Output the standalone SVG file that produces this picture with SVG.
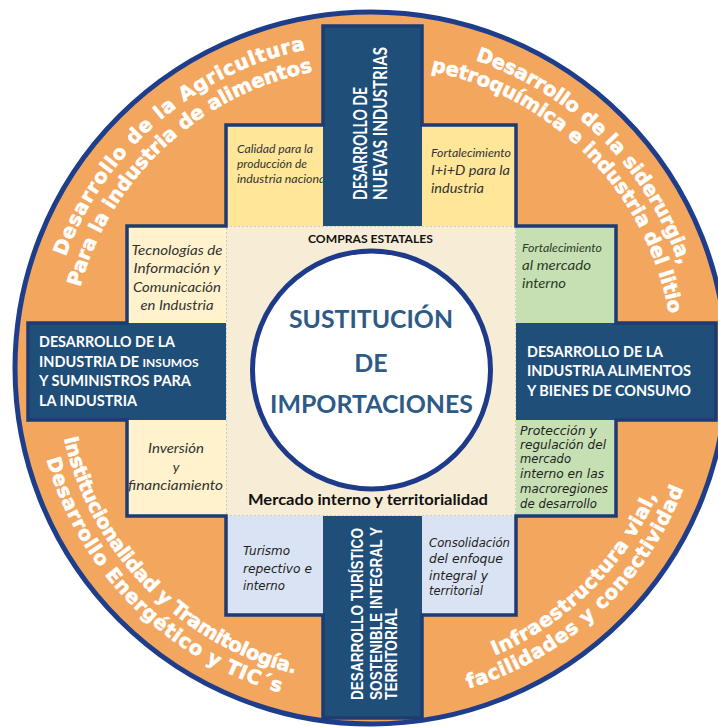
<svg xmlns="http://www.w3.org/2000/svg" width="718" height="727" viewBox="0 0 718 727">
<defs>
<style>
.ring{font-family:"DejaVu Sans",Verdana,sans-serif;font-weight:bold;font-size:19.5px;fill:#ffffff;stroke:#ffffff;stroke-width:0.6px}
.bar{fill:#1F4E79}
.bt{font-family:Lato,"Open Sans",sans-serif;font-weight:bold;font-size:14.5px;fill:#ffffff}
.vt{font-family:Lato,"Open Sans",sans-serif;font-weight:bold;font-size:19px;fill:#ffffff}
.vt2{font-family:"Liberation Sans",Arial,sans-serif;font-weight:bold;font-size:17px;fill:#ffffff}
.it{font-family:Lato,"Open Sans",sans-serif;font-style:italic;fill:#333333}
.tah{font-family:"DejaVu Sans",Verdana,sans-serif;font-style:italic;font-size:12px;fill:#222222}
.title{font-family:Lato,"Open Sans",sans-serif;font-weight:bold;font-size:25px;fill:#2E5A87;text-anchor:middle}
.lbl{font-family:Lato,"Open Sans",sans-serif;font-weight:bold;fill:#111111;text-anchor:middle}
.yel{fill:#FFE699}
.crm{fill:#FFF2CC}
.grn{fill:#C6E0B4}
.blu{fill:#DAE3F3}
.mid{text-anchor:middle}
</style>
<path id="pTL1" d="M65.6,256.8 A325,325 0 0 1 306.2,49.5"/>
<path id="pTL2" d="M80.0,287.3 A302,302 0 0 1 313.4,71.5"/>
<path id="pTR1" d="M475.2,60.2 A325,325 0 0 1 679.6,266.0"/>
<path id="pTR2" d="M430.9,71.0 A303,303 0 0 1 669.2,314.3"/>
<path id="pBL1" d="M63.95,438.3 A315,315 0 0 0 295.9,673.9"/>
<path id="pBL2" d="M46.6,459.2 A337,337 0 0 0 281.5,692.9"/>
<path id="pBR1" d="M494.8,655.5 A313,313 0 0 0 657.4,494.3"/>
<path id="pBR2" d="M468.4,688.5 A335,335 0 0 0 684.0,487.5"/>
</defs>

<rect x="0" y="0" width="718" height="727" fill="#ffffff"/>

<g id="ring">
<circle cx="371" cy="368" r="356" fill="#F3A65E" stroke="#1E3E8C" stroke-width="5"/>
</g>

<g id="center-square">
<rect x="226" y="226" width="290" height="290" fill="#F7ECD6" stroke="#A8A8A8" stroke-width="1" stroke-dasharray="2 2"/>
</g>

<g id="box-calidad">
<rect x="226" y="125" width="97" height="101" class="yel"/>
<text class="it" font-size="12" x="237" y="153" textLength="76" lengthAdjust="spacingAndGlyphs">Calidad para la</text>
<text class="it" font-size="12" x="237" y="168" textLength="70" lengthAdjust="spacingAndGlyphs">producción de</text>
<text class="it" font-size="12" x="237" y="183" textLength="91" lengthAdjust="spacingAndGlyphs">industria nacional</text>
</g>

<g id="box-idi">
<rect x="422" y="125" width="94" height="101" class="yel"/>
<text class="it" font-size="11.5" x="431" y="157" textLength="80" lengthAdjust="spacingAndGlyphs">Fortalecimiento</text>
<text class="it" font-size="14" x="431" y="175" textLength="79" lengthAdjust="spacingAndGlyphs">I+i+D para la</text>
<text class="it" font-size="14" x="431" y="193" textLength="53" lengthAdjust="spacingAndGlyphs">industria</text>
</g>

<g id="box-mercado">
<rect x="516" y="226" width="100" height="97" class="grn"/>
<text class="it" font-size="11.5" x="522" y="252" style="fill:#2D3B26" textLength="80" lengthAdjust="spacingAndGlyphs">Fortalecimiento</text>
<text class="it" font-size="14" x="522" y="270" style="fill:#2D3B26" textLength="69" lengthAdjust="spacingAndGlyphs">al mercado</text>
<text class="it" font-size="14" x="522" y="288" style="fill:#2D3B26" textLength="44" lengthAdjust="spacingAndGlyphs">interno</text>
</g>

<g id="box-tic">
<rect x="127" y="226" width="99" height="97" class="crm"/>
<text class="it mid" font-size="14" x="177" y="255" textLength="91" lengthAdjust="spacingAndGlyphs">Tecnologías de</text>
<text class="it mid" font-size="14" x="177" y="273" textLength="87" lengthAdjust="spacingAndGlyphs">Información y</text>
<text class="it mid" font-size="14" x="177" y="292" textLength="88" lengthAdjust="spacingAndGlyphs">Comunicación</text>
<text class="it mid" font-size="14" x="177" y="310" textLength="73" lengthAdjust="spacingAndGlyphs">en Industria</text>
</g>

<g id="box-inversion">
<rect x="127" y="420" width="99" height="96" class="crm"/>
<text class="it mid" font-size="14" x="176" y="453" textLength="56" lengthAdjust="spacingAndGlyphs">Inversión</text>
<text class="it mid" font-size="14" x="176" y="472">y</text>
<text class="it mid" font-size="14" x="175.5" y="490" textLength="95" lengthAdjust="spacingAndGlyphs">financiamiento</text>
</g>

<g id="box-turismo">
<rect x="226" y="516" width="97" height="99" class="blu"/>
<text class="tah" x="243" y="555" textLength="47" lengthAdjust="spacingAndGlyphs">Turismo</text>
<text class="tah" x="243" y="573" textLength="69" lengthAdjust="spacingAndGlyphs">repectivo e</text>
<text class="tah" x="243" y="590" textLength="42" lengthAdjust="spacingAndGlyphs">interno</text>
</g>

<g id="box-consolidacion">
<rect x="422" y="516" width="94" height="99" class="blu"/>
<text class="tah" x="429" y="547" textLength="81" lengthAdjust="spacingAndGlyphs">Consolidación</text>
<text class="tah" x="429" y="563" textLength="74" lengthAdjust="spacingAndGlyphs">del enfoque</text>
<text class="tah" x="429" y="580" textLength="59" lengthAdjust="spacingAndGlyphs">integral y</text>
<text class="tah" x="429" y="595" textLength="54" lengthAdjust="spacingAndGlyphs">territorial</text>
</g>

<g id="box-proteccion">
<rect x="516" y="420" width="100" height="96" class="grn"/>
<text class="tah" x="520" y="435" textLength="77" lengthAdjust="spacingAndGlyphs">Protección y</text>
<text class="tah" x="520" y="449" textLength="86" lengthAdjust="spacingAndGlyphs">regulación del</text>
<text class="tah" x="520" y="463" textLength="51" lengthAdjust="spacingAndGlyphs">mercado</text>
<text class="tah" x="520" y="478" textLength="84" lengthAdjust="spacingAndGlyphs">interno en las</text>
<text class="tah" x="520" y="493" textLength="88" lengthAdjust="spacingAndGlyphs">macroregiones</text>
<text class="tah" x="520" y="508" textLength="77" lengthAdjust="spacingAndGlyphs">de desarrollo</text>
</g>

<g id="bar-top">
<rect x="323" y="26" width="99" height="200" class="bar"/>
<text class="vt" transform="translate(367,200) rotate(-90)" x="0" y="0" textLength="113" lengthAdjust="spacingAndGlyphs">DESARROLLO DE</text>
<text class="vt" transform="translate(387,200) rotate(-90)" x="0" y="0" textLength="153" lengthAdjust="spacingAndGlyphs">NUEVAS INDUSTRIAS</text>
</g>

<g id="bar-left">
<rect x="28" y="323" width="198" height="97" class="bar"/>
<text class="bt" x="39" y="347" textLength="136" lengthAdjust="spacingAndGlyphs">DESARROLLO DE LA</text>
<text class="bt" x="39" y="367">INDUSTRIA DE <tspan font-size="12">INSUMOS</tspan></text>
<text class="bt" x="39" y="386" textLength="152" lengthAdjust="spacingAndGlyphs">Y SUMINISTROS PARA</text>
<text class="bt" x="39" y="406" textLength="98" lengthAdjust="spacingAndGlyphs">LA INDUSTRIA</text>
</g>

<g id="bar-right">
<rect x="516" y="323" width="200" height="97" class="bar"/>
<text class="bt" x="527" y="357" textLength="136" lengthAdjust="spacingAndGlyphs">DESARROLLO DE LA</text>
<text class="bt" x="527" y="376" textLength="164" lengthAdjust="spacingAndGlyphs">INDUSTRIA ALIMENTOS</text>
<text class="bt" x="527" y="396" textLength="164" lengthAdjust="spacingAndGlyphs">Y BIENES DE CONSUMO</text>
</g>

<g id="bar-bottom">
<rect x="323" y="516" width="99" height="202" class="bar"/>
<text class="vt2" transform="translate(363,700) rotate(-90)" x="0" y="0" textLength="172" lengthAdjust="spacingAndGlyphs">DESARROLLO TURÍSTICO</text>
<text class="vt2" transform="translate(382,700) rotate(-90)" x="0" y="0" textLength="173" lengthAdjust="spacingAndGlyphs">SOSTENIBLE INTEGRAL Y</text>
<text class="vt2" transform="translate(397,700) rotate(-90)" x="0" y="0" textLength="92" lengthAdjust="spacingAndGlyphs">TERRITORIAL</text>
</g>

<g id="cross-outline">
<path d="M323,26 H422 V125 H516 V226 H616 V323 H716 V420 H616 V516 H516 V615 H422 V718 H323 V615 H226 V516 H127 V420 H28 V323 H127 V226 H226 V125 H323 Z" fill="none" stroke="#1F3B73" stroke-width="3.5" stroke-linejoin="miter"/>
</g>

<g id="core">
<circle cx="371.5" cy="370" r="119" fill="#ffffff" stroke="#1E3A8A" stroke-width="5"/>
<text class="title" x="371" y="328" textLength="164" lengthAdjust="spacingAndGlyphs">SUSTITUCIÓN</text>
<text class="title" x="371" y="372">DE</text>
<text class="title" x="371.5" y="413" textLength="203" lengthAdjust="spacingAndGlyphs">IMPORTACIONES</text>
</g>

<g id="label-compras">
<text class="lbl" font-size="11.5" x="370.5" y="243" textLength="125" lengthAdjust="spacingAndGlyphs">COMPRAS ESTATALES</text>
</g>
<g id="label-mercado">
<text class="lbl" font-size="14.5" x="368" y="505" textLength="240" lengthAdjust="spacingAndGlyphs">Mercado interno y territorialidad</text>
</g>

<g id="ring-agricultura">
<text class="ring"><textPath href="#pTL1" textLength="331" lengthAdjust="spacing">Desarrollo de la Agricultura</textPath></text>
<text class="ring"><textPath href="#pTL2" textLength="334" lengthAdjust="spacing">Para la industria de alimentos</textPath></text>
</g>
<g id="ring-siderurgia">
<text class="ring"><textPath href="#pTR1" textLength="300" lengthAdjust="spacing">Desarrollo de la siderurgia,</textPath></text>
<text class="ring"><textPath href="#pTR2" textLength="361" lengthAdjust="spacing">petroquímica e industria del litio</textPath></text>
</g>
<g id="ring-institucionalidad">
<text class="ring"><textPath href="#pBL1" textLength="347" lengthAdjust="spacing">Institucionalidad y Tramitología.</textPath></text>
<text class="ring"><textPath href="#pBL2" textLength="345" lengthAdjust="spacing">Desarrollo Energético y TIC´s</textPath></text>
</g>
<g id="ring-infraestructura">
<text class="ring"><textPath href="#pBR1" textLength="233" lengthAdjust="spacing">Infraestructura vial,</textPath></text>
<text class="ring"><textPath href="#pBR2" textLength="304" lengthAdjust="spacing">facilidades y conectividad</textPath></text>
</g>

<g id="connectors"></g>
</svg>
